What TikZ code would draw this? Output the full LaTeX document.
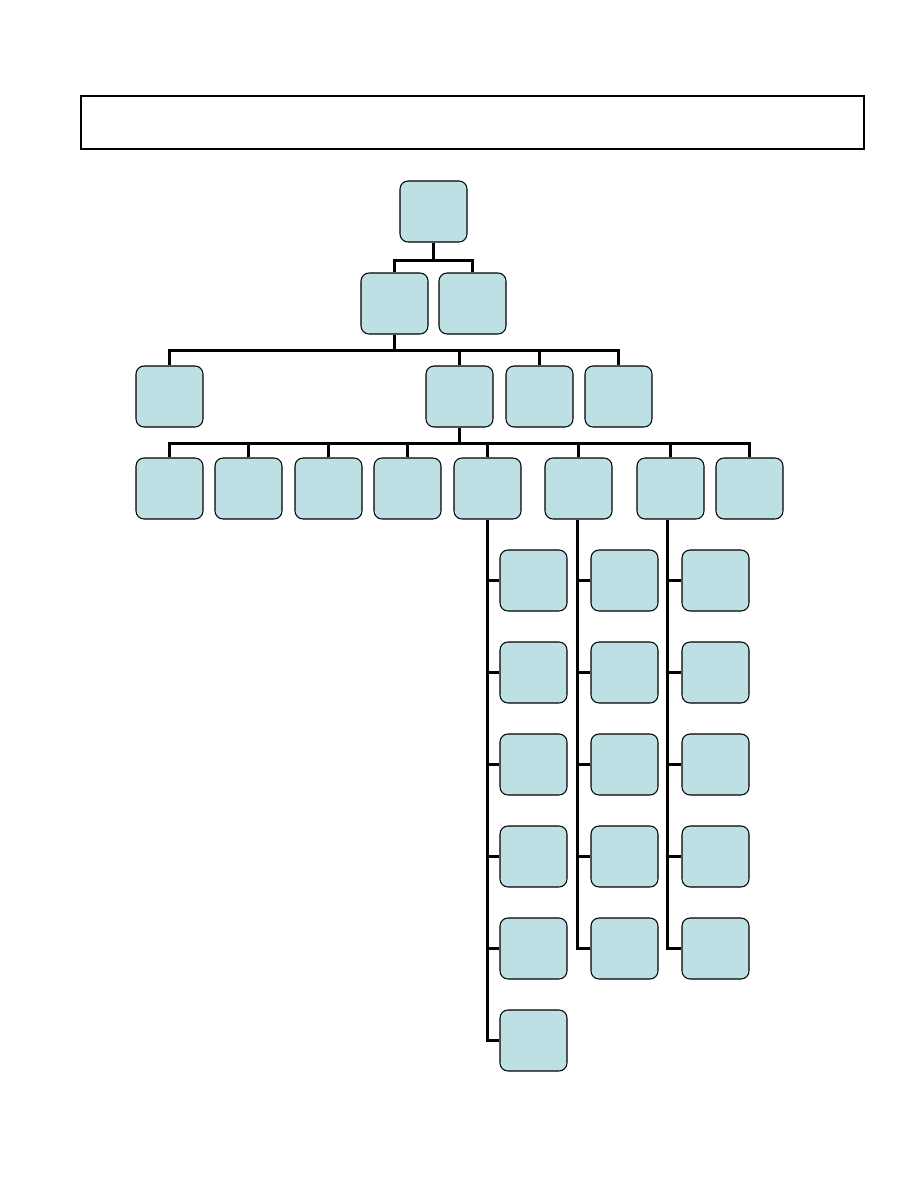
\documentclass[tikz,border=0pt]{standalone}
\usepackage{xcolor}
\usepackage{tikz}
\usetikzlibrary{calc}

\definecolor{boxfill}{HTML}{BCE0E3}
\tikzset{
  unit/.style={draw, fill=boxfill, rounded corners=0.16cm, line width=0.6pt,
    minimum width=1.34cm, minimum height=1.22cm, inner sep=0pt},
  link/.style={line width=1.7pt}
}

\begin{document}
\begin{tikzpicture}[x=0.02cm, y=-0.02cm]
\useasboundingbox (0,0) rectangle (918,1188);
% title frame
\draw[line width=0.6pt] (81,96) rectangle (864,149);
\draw[line width=1.4pt] (81,149) -- (864,149) -- (864,96);

% boxes
\node[unit] (root) at (433.5,211.5) {};
\node[unit] (a) at (394.5,303.5) {};
\node[unit] (b) at (472.5,303.5) {};
\foreach \n/\x in {c1/169.5, c2/459.5, c3/539.5, c4/618.5}
  \node[unit] (\n) at (\x,396.5) {};
\foreach \n/\x in {d1/169.5, d2/248.5, d3/328.5, d4/407.5, d5/487.5, d6/578.5, d7/670.5, d8/749.5}
  \node[unit] (\n) at (\x,488.5) {};
\foreach \i/\y in {1/580.5, 2/672.5, 3/764.5, 4/856.5, 5/948.5, 6/1040.5}
  \node[unit] (e\i) at (533.5,\y) {};
\foreach \i/\y in {1/580.5, 2/672.5, 3/764.5, 4/856.5, 5/948.5} {
  \node[unit] (f\i) at (624.5,\y) {};
  \node[unit] (g\i) at (715.5,\y) {};
}

% connectors
\draw[link] (root.south) -- ++(0,18) coordinate (r1);
\draw[link] (a.north) |- (r1) -| (b.north);
\draw[link] (a.south) -- ++(0,16) coordinate (a1);
\draw[link] (c1.north) |- (a1) -| (c4.north);
\foreach \n in {c2, c3}
  \draw[link] (\n.north) -- (\n.north |- a1);
\draw[link] (c2.south) -- ++(0,16) coordinate (c2b);
\draw[link] (d1.north) |- (c2b) -| (d8.north);
\foreach \n in {d2, d3, d4, d5, d6, d7}
  \draw[link] (\n.north) -- (\n.north |- c2b);

% column lines
\draw[link] (d5.south) |- (e6.west);
\foreach \i in {1,...,5}
  \draw[link] (d5.south |- e\i.west) -- (e\i.west);
\draw[link] ([xshift=-0.5]d6.south) |- (f5.west);
\draw[link] ([xshift=-1.5]d7.south) |- (g5.west);
\foreach \i in {1,...,4} {
  \draw[link] ([xshift=-0.5]d6.south |- f\i.west) -- (f\i.west);
  \draw[link] ([xshift=-1.5]d7.south |- g\i.west) -- (g\i.west);
}
\end{tikzpicture}
\end{document}
